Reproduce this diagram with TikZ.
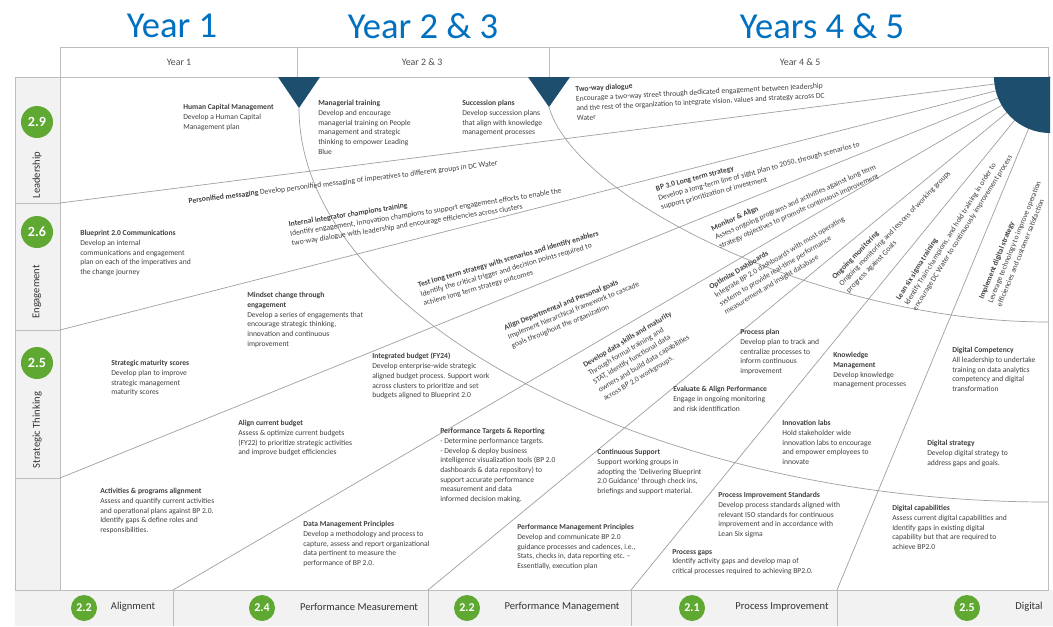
\documentclass[tikz,border=0pt]{standalone}
\usepackage{fontspec}
\setmainfont{Carlito}
\definecolor{yearblue}{HTML}{0070C0}
\definecolor{badgegreen}{HTML}{5FA832}
\definecolor{navy}{HTML}{1D4E6E}
\definecolor{rulegray}{HTML}{A0A0A0}
\definecolor{framegray}{HTML}{BDBDBD}
\definecolor{bandgray}{HTML}{F2F2F2}
\begin{document}
\begin{tikzpicture}[x=0.025cm,y=-0.025cm,
  frame/.style={draw=framegray,line width=0.6pt},
  fanline/.style={draw=rulegray,line width=0.5pt},
  item/.style={anchor=north west,align=left,inner sep=0pt,text=black!75,font=\fontsize{5.4}{6.9}\selectfont},
  badge/.style={circle,fill=badgegreen,text=white,inner sep=0pt,minimum size=0.8cm,font=\bfseries\fontsize{10}{10}\selectfont},
  smallbadge/.style={badge,minimum size=0.65cm,font=\bfseries\fontsize{8.5}{8.5}\selectfont},
  cat/.style={font=\fontsize{7.5}{7.5}\selectfont,text=black!80},
  yearhead/.style={font=\fontsize{26}{26}\selectfont,text=yearblue},
  yearcell/.style={font=\fontsize{7}{7}\selectfont,text=black!70}]
  \useasboundingbox (0,0) rectangle (1053,626);
  \fill[white] (0,0) rectangle (1053,626);
  \fill[bandgray] (15,77) rectangle (60,590);
  \fill[bandgray] (15,590) rectangle (1053,626);
  \draw[frame] (60,47) rectangle (1048,77);
  \draw[frame] (297,47) -- (297,77);
  \draw[frame] (549,47) -- (549,77);
  \draw[frame] (15,77) rectangle (1048,590);
  \draw[frame] (60,77) -- (60,590);
  \foreach \y in {203,330,478} \draw[frame] (15,\y) -- (60,\y);
  \foreach \x in {173,428,631,837} \draw[frame] (\x,590) -- (\x,626);

  \node[yearhead] (hdrone) at (172,26) {Year 1};
  \node[yearhead] (hdrtwo) at (423,26) {Year 2 \& 3};
  \node[yearhead] (hdrfour) at (822,26) {Years 4 \& 5};
  \node[yearcell] (cellone) at (179,62) {Year 1};
  \node[yearcell] (celltwo) at (422,62) {Year 2 \& 3};
  \node[yearcell] (cellfour) at (800,62) {Year 4 \& 5};

  \coordinate (hub) at (1050,77);
  \coordinate (leadend) at (60,203);
  \coordinate (engend) at (60,330);
  \coordinate (stratend) at (60,478);
  \coordinate (alignend) at (173,590);
  \coordinate (measend) at (428,590);
  \coordinate (mgmtend) at (631,590);
  \coordinate (procend) at (837,590);
  \foreach \e in {leadend,engend,stratend,alignend,measend,mgmtend,procend}
    \draw[fanline] (hub) -- (\e);
  \coordinate (apexone) at (299,108);
  \coordinate (apextwo) at (549,107);
  \draw[fanline] (apexone) .. controls (299,317) and (652,502) .. (1048,502);
  \draw[fanline] (apextwo) .. controls (575,200) and (824,322) .. (1048,322);
  \fill[navy] (278,77) -- (320,77) -- (apexone) -- cycle;
  \fill[navy] (528,77) -- (570,77) -- (apextwo) -- cycle;
  \fill[navy] (hub) ++(-56,0) arc[start angle=180,end angle=90,radius=56] -- (hub) -- cycle;

  \node[badge] (bleader) at (37,122) {2.9};
  \node[badge] (bengage) at (37,232) {2.6};
  \node[badge] (bstrat) at (37,363) {2.5};
  \node[cat,rotate=90] (lleader) at (37,175) {Leadership};
  \node[cat,rotate=90] (lengage) at (37,292) {Engagement};
  \node[cat,rotate=90] (lstrat) at (37,430) {Strategic Thinking};

  \node[smallbadge] (balign) at (84,608) {2.2};
  \node[smallbadge] (bmeas) at (262,608) {2.4};
  \node[smallbadge] (bmgmt) at (467,608) {2.2};
  \node[smallbadge] (bproc) at (692,608) {2.1};
  \node[smallbadge] (bdigit) at (967,608) {2.5};
  \node[cat] (lalign) at (133,607) {Alignment};
  \node[cat] (lmeas) at (359,607) {Performance Measurement};
  \node[cat] (lmgmt) at (562,607) {Performance Management};
  \node[cat] (lproc) at (782,607) {Process Improvement};
  \node[cat] (ldigit) at (1029,607) {Digital};

  \node[item] (hcm) at (183,104) {\textbf{Human Capital Management}\\Develop a Human Capital\\Management plan};
  \node[item] (mgr) at (318,100) {\textbf{Managerial training}\\Develop and encourage\\managerial training on People\\management and strategic\\thinking to empower Leading\\Blue};
  \node[item] (succ) at (462,100) {\textbf{Succession plans}\\Develop succession plans\\that align with knowledge\\management processes};
  \node[item,rotate=3] (twoway) at (575,86) {\textbf{Two-way dialogue}\\Encourage a two-way street through dedicated engagement between leadership\\and the rest of the organization to integrate vision, values and strategy across DC\\Water};
  \node[item,rotate=7] (persmsg) at (188,198) {\textbf{Personified messaging} Develop personified messaging of imperatives to different groups in DC Water};
  \node[item,rotate=9] (intinteg) at (288,221) {\textbf{Internal integrator champions training}\\Identify engagement, innovation champions to support engagement efforts to enable the\\two-way dialogue with leadership and encourage efficiencies across clusters};
  \node[item] (bpcom) at (80,230) {\textbf{Blueprint 2.0 Communications}\\Develop an internal\\communications and engagement\\plan on each of the imperatives and\\the change journey};
  \node[item] (mindset) at (247,292) {\textbf{Mindset change through}\\\textbf{engagement}\\Develop a series of engagements that\\encourage strategic thinking,\\innovation and continuous\\improvement};
  \node[item,rotate=16] (testlong) at (417,282) {\textbf{Test long term strategy with scenarios and identify enablers}\\Identify the critical trigger and decision points required to\\achieve long term strategy outcomes};
  \node[item,rotate=15] (bpthree) at (655,186) {\textbf{BP 3.0 Long term strategy}\\Develop a long-term line of sight plan to 2050, through scenarios to\\support prioritization of investment};
  \node[item] (stratmat) at (111,360) {\textbf{Strategic maturity scores}\\Develop plan to improve\\strategic management\\maturity scores};
  \node[item] (intbud) at (372,353) {\textbf{Integrated budget (FY24)}\\Develop enterprise-wide strategic\\aligned budget process. Support work\\across clusters to prioritize and set\\budgets aligned to Blueprint 2.0};
  \node[item,rotate=22] (aligndept) at (503,325) {\textbf{Align Departmental and Personal goals}\\Implement hierarchical framework to cascade\\goals throughout the organization};
  \node[item,rotate=24] (monitor) at (710,226) {\textbf{Monitor \& Align}\\Assess ongoing programs and activities against long term\\strategy objectives to promote continuous improvement};
  \node[item,rotate=31] (devdata) at (582,363) {\textbf{Develop data skills and maturity}\\Through formal training and\\STAT, identify functional data\\owners and build data capabilities\\across BP 2.0 workgroups.};
  \node[item,rotate=31] (optimize) at (708,285) {\textbf{Optimize Dashboards}\\Integrate BP 2.0 dashboards with most operating\\systems to provide real-time performance\\measurement and insight database};
  \node[item,rotate=46] (ongoing) at (831,276) {\textbf{Ongoing monitoring}\\Ongoing monitoring and lessons of working groups\\progress against Goals};
  \node[item,rotate=58] (lean) at (895,298) {\textbf{Lean six sigma training}\\Identify Train champions, and hold training in order to\\encourage DC Water to continuously improvement process};
  \node[item,rotate=68] (impldig) at (978,298) {\textbf{Implement digital strategy}\\Leverage technology to improve operation\\efficiencies and customer satisfaction};
  \node[item] (procplan) at (740,329) {\textbf{Process plan}\\Develop plan to track and\\centralize processes to\\inform continuous\\improvement};
  \node[item] (knowmgmt) at (833,352) {\textbf{Knowledge}\\\textbf{Management}\\Develop knowledge\\management processes};
  \node[item] (digcomp) at (952,347) {\textbf{Digital Competency}\\All leadership to undertake\\training on data analytics\\competency and digital\\transformation};
  \node[item] (evalperf) at (673,386) {\textbf{Evaluate \& Align Performance}\\Engage in ongoing monitoring\\and risk identification};
  \node[item] (alignbud) at (238,420) {\textbf{Align current budget}\\Assess \& optimize current budgets\\(FY22) to prioritize strategic activities\\and improve budget efficiencies};
  \node[item] (actprog) at (100,488) {\textbf{Activities \& programs alignment}\\Assess and quantify current activities\\and operational plans against BP 2.0.\\Identify gaps \& define roles and\\responsibilities.};
  \node[item] (datamgmt) at (303,521) {\textbf{Data Management Principles}\\Develop a methodology and process to\\capture, assess and report organizational\\data pertinent to measure the\\performance of BP 2.0.};
  \node[item] (perftgt) at (440,428) {\textbf{Performance Targets \& Reporting}\\- Determine performance targets.\\- Develop \& deploy business\\intelligence visualization tools (BP 2.0\\dashboards \& data repository) to\\support accurate performance\\measurement and data\\informed decision making.};
  \node[item] (contsup) at (597,449) {\textbf{Continuous Support}\\Support working groups in\\adopting the `Delivering Blueprint\\2.0 Guidance' through check ins,\\briefings and support material.};
  \node[item] (perfmgmt) at (517,524) {\textbf{Performance Management Principles}\\Develop and communicate BP 2.0\\guidance processes and cadences, i.e.,\\Stats, checks in, data reporting etc. --\\Essentially, execution plan};
  \node[item] (procgaps) at (672,549) {\textbf{Process gaps}\\Identify activity gaps and develop map of\\critical processes required to achieving BP2.0.};
  \node[item] (innov) at (782,420) {\textbf{Innovation labs}\\Hold stakeholder wide\\innovation labs to encourage\\and empower employees to\\innovate};
  \node[item] (digstrat) at (927,440) {\textbf{Digital strategy}\\Develop digital strategy to\\address gaps and goals.};
  \node[item] (procimp) at (718,492) {\textbf{Process Improvement Standards}\\Develop process standards aligned with\\relevant ISO standards for continuous\\improvement and in accordance with\\Lean Six sigma};
  \node[item] (digcap) at (892,505) {\textbf{Digital capabilities}\\Assess current digital capabilities and\\Identify gaps in existing digital\\capability but that are required to\\achieve BP2.0};
\end{tikzpicture}
\end{document}
